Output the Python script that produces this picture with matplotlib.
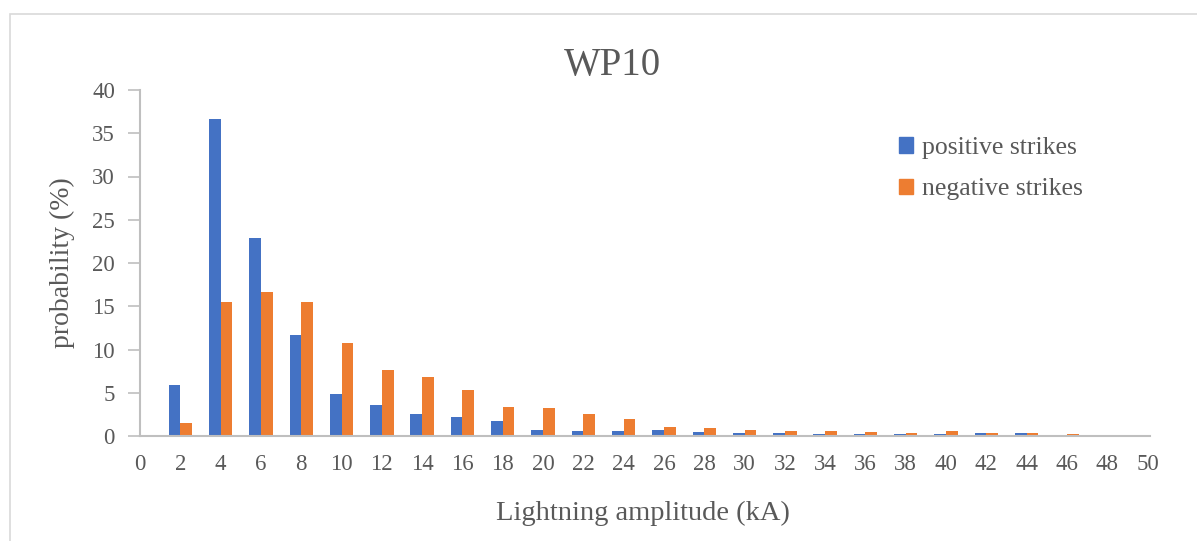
import matplotlib
matplotlib.use("Agg")
import matplotlib.pyplot as plt
import matplotlib.patches as mpatches
import numpy as np

categories = [0, 2, 4, 6, 8, 10, 12, 14, 16, 18, 20, 22, 24, 26, 28, 30, 32, 34, 36, 38, 40, 42, 44, 46, 48, 50]
positive = [0, 5.9, 36.7, 22.85, 11.64, 4.82, 3.58, 2.54, 2.16, 1.70, 0.69, 0.58, 0.62, 0.65, 0.42, 0.31, 0.31, 0.23, 0.23, 0.19, 0.19, 0.31, 0.31, 0.10, 0.06, 0.0]
negative = [0, 1.46, 15.5, 16.65, 15.5, 10.8, 7.59, 6.82, 5.36, 3.31, 3.28, 2.58, 2.0, 1.04, 0.92, 0.73, 0.58, 0.54, 0.42, 0.38, 0.54, 0.35, 0.35, 0.19, 0.06, 0.08]
series_names = ["positive strikes", "negative strikes"]
title = "WP10"
xlabel = "Lightning amplitude (kA)"
ylabel = "probability (%)"

BLUE = "#4472C4"
ORANGE = "#ED7D31"
TXT = "#595959"
GRID = "#BFBFBF"

plt.rcParams['font.family'] = ['Liberation Serif', 'DejaVu Serif']

W, H = 1197, 541
fig = plt.figure(figsize=(W / 100, H / 100), dpi=100)
ax = fig.add_axes([140 / W, 1 - 436 / H, (1150 - 140) / W, (436 - 90) / H])

# outer chart frame
fig.patches.append(mpatches.Rectangle((10 / W, -0.1), 1.2, 1 - 14 / H + 0.1,
                                      transform=fig.transFigure, fill=False,
                                      edgecolor="#D9D9D9", linewidth=1.2))

x = np.arange(len(categories))
bw = 0.29
ax.bar(x - bw / 2, positive, width=bw, color=BLUE, label=series_names[0], linewidth=0)
ax.bar(x + bw / 2, negative, width=bw, color=ORANGE, label=series_names[1], linewidth=0)

ax.set_xlim(0, len(categories) - 1 + 0.06)
ax.set_ylim(0, 40)
ax.set_yticks(np.arange(0, 41, 5))
ax.set_xticks(x)
ax.set_xticklabels([str(c) for c in categories])

for s in ["top", "right"]:
    ax.spines[s].set_visible(False)
for s in ["left", "bottom"]:
    ax.spines[s].set_color(GRID)
    ax.spines[s].set_linewidth(1.5)

ax.tick_params(axis="y", length=9, width=1.2, color=GRID, labelcolor=TXT, labelsize=16.5, pad=9)
ax.tick_params(axis="x", length=0, labelcolor=TXT, labelsize=16.5, pad=13)

fig.text(612 / W, 1 - 65 / H, title, ha="center", va="center", fontsize=28, color=TXT)
fig.text(643 / W, 1 - 513 / H, xlabel, ha="center", va="center", fontsize=20.5, color=TXT)
fig.text(62 / W, 1 - 263 / H, ylabel, ha="center", va="center", fontsize=20, color=TXT, rotation=90)

handles = [mpatches.Patch(color=BLUE), mpatches.Patch(color=ORANGE)]
leg = fig.legend(handles, series_names, loc="upper left",
                 bbox_to_anchor=(876 / W, 1 - 114 / H), frameon=False,
                 fontsize=18.5, labelcolor=TXT, handlelength=0.55, handleheight=0.55,
                 handletextpad=0.35, labelspacing=0.75)

fig.savefig("out.png", dpi=100)
